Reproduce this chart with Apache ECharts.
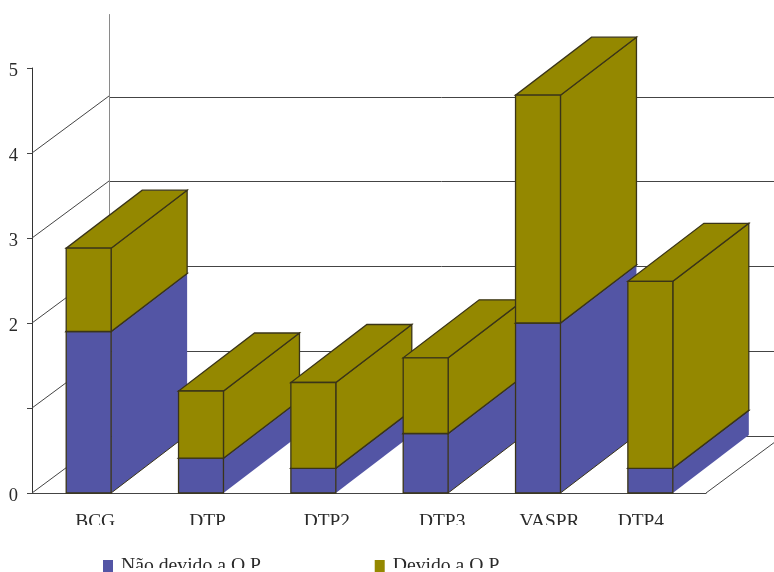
<!DOCTYPE html>
<html>
<head>
<meta charset="utf-8">
<style>html,body{margin:0;padding:0;background:#fff}#chart{width:774px;height:572px}</style>
<script src="https://cdn.jsdelivr.net/npm/echarts@6/dist/echarts.min.js"></script>
</head>
<body>
<div id="chart"></div>
<script>
// Vaccines on the horizontal axis, two stacked causes per vaccine
const categories = ['BCG', 'DTP', 'DTP2', 'DTP3', 'VASPR', 'DTP4'];
const naoDevido = [1.9, 0.41, 0.29, 0.7, 2.0, 0.29];
const devido = [0.98, 0.79, 1.01, 0.89, 2.68, 2.2];
const yTicks = [0, 1, 2, 3, 4];
const seriesNames = ['Não devido a O.P.', 'Devido a O.P.'];

// Oblique projection used for the box sides and the wall
const DEPTH_X = 76;
const DEPTH_Y = 58;
const BAR_SHARE = 0.4;
const BLUE = '#5355a5';
const OLIVE = '#948800';
const EDGE = '#3a3418';
const FONT = '"Liberation Serif", serif';
const TEXT = '#2a2a2a';

// Horizontal nudge of each category caption, applied through label padding
const captionNudge = [7, 7, 14, 17, 12, -9];
// Boxes whose lower side edge is outlined
const outlinedFloorEdge = [true, false, false, true, true, false];

const chart = echarts.init(document.getElementById('chart'));

function stackedRows(base, part) {
  return part.map((v, i) => [i, base ? base[i] : 0, (base ? base[i] : 0) + v]);
}

// One extruded box: side, top and front faces. Painting order follows the
// category, so a later box always covers the side of the box before it.
function boxRenderer(color, layer) {
  return function (params, api) {
    const cat = api.value(0);
    const lo = api.coord([cat, api.value(1)]);
    const hi = api.coord([cat, api.value(2)]);
    const w = api.size([1, 0])[0] * BAR_SHARE;
    const x0 = lo[0] - w / 2 + 0.5, x1 = lo[0] + w / 2 + 0.5;
    const z2 = cat * 10 + layer;
    const face = pts => ({ type: 'polygon', z2, shape: { points: pts } });
    const edged = { fill: color, stroke: EDGE, lineWidth: 1.3 };
    const side = face([[x1, lo[1]], [x1 + DEPTH_X, lo[1] - DEPTH_Y], [x1 + DEPTH_X, hi[1] - DEPTH_Y], [x1, hi[1]]]);
    side.style = layer === 1 ? edged : { fill: color };
    const top = face([[x0, hi[1]], [x1, hi[1]], [x1 + DEPTH_X, hi[1] - DEPTH_Y], [x0 + DEPTH_X, hi[1] - DEPTH_Y]]);
    top.style = edged;
    const front = face([[x0, lo[1]], [x1, lo[1]], [x1, hi[1]], [x0, hi[1]]]);
    front.style = edged;
    const children = [side, top, front];
    if (layer === 0 && outlinedFloorEdge[cat]) {
      children.push({
        type: 'line',
        z2,
        shape: { x1, y1: lo[1], x2: x1 + DEPTH_X, y2: lo[1] - DEPTH_Y },
        style: { stroke: EDGE, lineWidth: 1 }
      });
    }
    return { type: 'group', children };
  };
}

// Receding lines from the front axis to the back wall
function wallRenderer(params, api) {
  const cs = params.coordSys;
  const y = api.coord([0, api.value(0)])[1];
  const lines = [{
    type: 'line',
    shape: { x1: cs.x, y1: y, x2: cs.x + DEPTH_X + 1, y2: y - DEPTH_Y + 1 },
    style: { stroke: '#444', lineWidth: 1 }
  }];
  if (api.value(0) === 0) {
    lines.push({
      type: 'line',
      shape: { x1: cs.x + cs.width, y1: y, x2: cs.x + cs.width + DEPTH_X + 1, y2: y - DEPTH_Y + 1 },
      style: { stroke: '#444', lineWidth: 1 }
    });
  }
  return { type: 'group', children: lines };
}

const whiteBand = (x, y, width, height) => ({
  type: 'rect', z: 100, shape: { x, y, width, height }, style: { fill: '#fff' }
});

chart.setOption({
  animation: false,
  backgroundColor: '#fff',
  textStyle: { fontFamily: FONT },
  grid: [
    { left: 32, right: 68, top: 68, height: 425 },
    { left: 109, right: -9, top: 14.5, height: 421.5 }
  ],
  legend: {
    data: seriesNames,
    icon: 'rect',
    left: 103,
    top: 556,
    itemWidth: 10,
    itemHeight: 12,
    itemGap: 111,
    padding: 0,
    selectedMode: false,
    textStyle: { fontFamily: FONT, fontSize: 19.7, color: TEXT, padding: [0, 0, 12, 3] }
  },
  xAxis: [
    {
      type: 'category',
      gridIndex: 0,
      data: categories.map((c, i) => ({
        value: c,
        textStyle: {
          padding: captionNudge[i] > 0 ? [0, 0, 0, captionNudge[i] * 2] : [0, -captionNudge[i] * 2, 0, 0]
        }
      })),
      axisLine: { lineStyle: { color: '#444', width: 1 } },
      axisTick: { length: 6, lineStyle: { color: '#333' } },
      axisLabel: { fontFamily: FONT, fontSize: 19.4, color: TEXT, margin: 19, interval: 0 }
    },
    { type: 'value', gridIndex: 1, show: false, splitLine: { show: false } }
  ],
  yAxis: [
    {
      type: 'value',
      gridIndex: 0,
      min: 0,
      max: 5,
      interval: 1,
      axisLine: { show: true, lineStyle: { color: '#333', width: 1 } },
      axisTick: { show: true, length: 5, lineStyle: { color: '#444' } },
      axisLabel: {
        color: TEXT,
        margin: 14,
        // The value 1 carries a tick but no caption
        formatter: v => (v === 1 ? '' : '{n|' + v + '}'),
        rich: { n: { fontFamily: FONT, fontSize: 18.5, color: TEXT, padding: [6, 0, 0, 0] } }
      },
      splitLine: { show: false }
    },
    {
      type: 'value',
      gridIndex: 1,
      min: 0,
      max: 4.97,
      interval: 1,
      axisLine: { show: true, lineStyle: { color: '#8a8a8a', width: 1 } },
      axisTick: { show: false },
      axisLabel: { show: false },
      splitLine: { show: true, showMaxLine: false, lineStyle: { color: '#444', width: 1 } }
    }
  ],
  series: [
    {
      type: 'custom',
      name: 'Parede',
      xAxisIndex: 0,
      yAxisIndex: 0,
      z: 1,
      renderItem: wallRenderer,
      data: yTicks.map(v => [v]),
      encode: { y: 0 }
    },
    {
      type: 'custom',
      name: seriesNames[0],
      xAxisIndex: 0,
      yAxisIndex: 0,
      z: 2,
      itemStyle: { color: BLUE },
      renderItem: boxRenderer(BLUE, 0),
      data: stackedRows(null, naoDevido),
      encode: { x: 0, y: [1, 2] }
    },
    {
      type: 'custom',
      name: seriesNames[1],
      xAxisIndex: 0,
      yAxisIndex: 0,
      z: 2,
      itemStyle: { color: OLIVE },
      renderItem: boxRenderer(OLIVE, 1),
      data: stackedRows(naoDevido, devido),
      encode: { x: 0, y: [1, 2] }
    }
  ],
  // Captions are cropped along their lower edge
  graphic: [
    whiteBand(32, 525, 742, 20),
    whiteBand(116, 568, 255, 4),
    whiteBand(388, 568, 386, 4)
  ]
});
</script>
</body>
</html>
